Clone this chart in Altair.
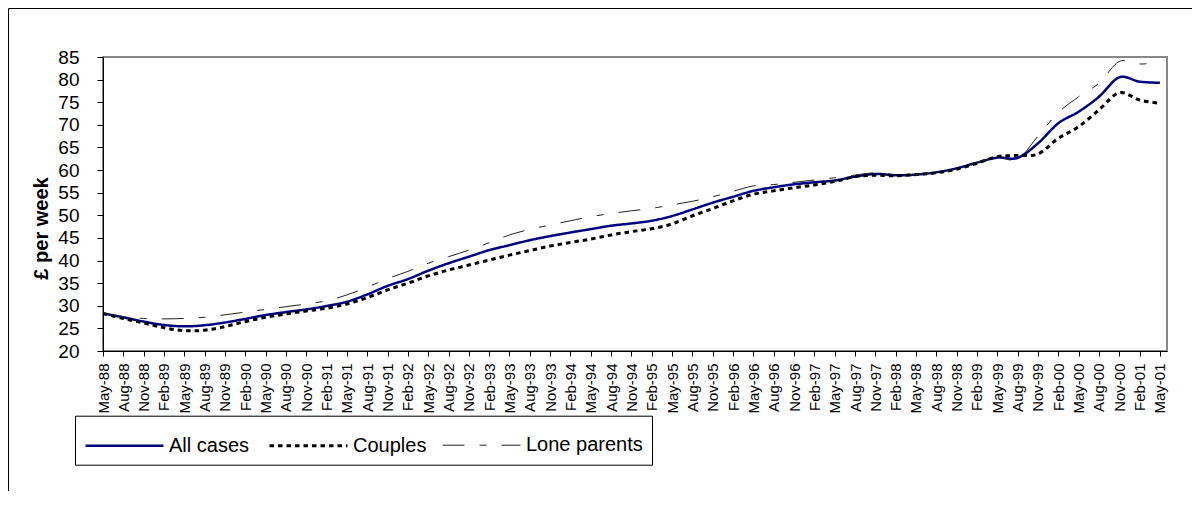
import json
import altair as alt
import pandas as pd

labels = ["May-88","Aug-88","Nov-88","Feb-89","May-89","Aug-89","Nov-89","Feb-90","May-90","Aug-90",
          "Nov-90","Feb-91","May-91","Aug-91","Nov-91","Feb-92","May-92","Aug-92","Nov-92","Feb-93",
          "May-93","Aug-93","Nov-93","Feb-94","May-94","Aug-94","Nov-94","Feb-95","May-95","Aug-95",
          "Nov-95","Feb-96","May-96","Aug-96","Nov-96","Feb-97","May-97","Aug-97","Nov-97","Feb-98",
          "May-98","Aug-98","Nov-98","Feb-99","May-99","Aug-99","Nov-99","Feb-00","May-00","Aug-00",
          "Nov-00","Feb-01","May-01"]

all_cases = [28.3, 27.45, 26.5, 25.75, 25.45, 25.7, 26.3, 27.1, 27.95, 28.6,
             29.2, 29.95, 30.9, 32.5, 34.4, 35.9, 37.75, 39.4, 40.85, 42.3,
             43.4, 44.5, 45.4, 46.2, 46.95, 47.7, 48.2, 48.8, 49.85, 51.3,
             52.8, 54.1, 55.4, 56.2, 56.85, 57.3, 57.7, 58.55, 59.15, 58.85,
             59.0, 59.5, 60.4, 61.65, 62.75, 62.7, 65.9, 70.35, 72.9, 76.2,
             80.5, 79.55, 79.3]

couples = [28.3, 27.2, 26.2, 25.15, 24.5, 24.6, 25.4, 26.5, 27.45, 28.2,
           28.85, 29.45, 30.4, 31.8, 33.5, 35.0, 36.6, 37.9, 39.0, 40.1,
           41.2, 42.2, 43.2, 44.0, 44.75, 45.65, 46.4, 47.05, 48.1, 49.9,
           51.5, 53.2, 54.65, 55.4, 56.1, 56.7, 57.5, 58.55, 58.85, 58.75,
           59.0, 59.4, 60.2, 61.5, 62.95, 63.25, 63.55, 67.0, 69.6, 73.3,
           77.1, 75.5, 74.75]

lone_parents = [28.3, 27.6, 27.2, 27.1, 27.2, 27.45, 28.0, 28.6, 29.2, 29.8,
                30.4, 31.1, 32.4, 34.1, 36.0, 37.6, 39.4, 40.85, 42.3, 43.95,
                45.65, 46.9, 47.85, 48.8, 49.7, 50.4, 51.0, 51.55, 52.3, 53.1,
                54.1, 55.3, 56.5, 56.8, 57.3, 57.8, 58.3, 58.9, 59.4, 59.0,
                59.0, 59.5, 60.4, 61.7, 62.8, 62.4, 67.5, 72.7, 76.2, 79.2,
                84.0, 83.45, 83.8]

series_names = ["All cases", "Couples", "Lone parents"]
y_ticks = list(range(20, 90, 5))

rows = []
for name, vals in zip(series_names, [all_cases, couples, lone_parents]):
    for i, v in enumerate(vals):
        rows.append({"idx": i, "value": v, "series": name, "order": series_names.index(name)})
df = pd.DataFrame(rows)

FONT = "Liberation Sans"
W, H = 1064, 294

label_expr = json.dumps(labels) + "[datum.value]"


def make_legend():
    return alt.Legend(orient="none", legendX=-28, legendY=358.7,
                      direction="horizontal", columns=3, columnPadding=13,
                      symbolType="M-1,0H3", symbolSize=1521, labelOffset=43,
                      labelFont=FONT, labelFontSize=20, labelColor="black",
                      padding=9, strokeColor="black", title=None)


lines = alt.Chart(df).mark_line(interpolate="cardinal").encode(
    x=alt.X("idx:Q",
            scale=alt.Scale(domain=[0, 52.35], nice=False, zero=False),
            axis=alt.Axis(values=list(range(len(labels))), labelExpr=label_expr,
                          labelAngle=270, title=None, grid=False, tickSize=5,
                          labelPadding=7, labelFontSize=15, labelFont=FONT,
                          labelColor="black", domainColor="black", tickColor="black",
                          labelOverlap=False, labelFlush=False)),
    y=alt.Y("value:Q",
            scale=alt.Scale(domain=[20, 85], nice=False, zero=False),
            axis=alt.Axis(values=y_ticks, title="£ per week", titleFont=FONT,
                          titleFontSize=20, titleFontWeight="bold", titleColor="black",
                          titleX=-62, titleY=171, titleAngle=270, titleAlign="center",
                          titleBaseline="middle", grid=False, tickSize=6, labelPadding=18,
                          labelFontSize=19, labelFont=FONT, labelColor="black",
                          domainColor="black", tickColor="black")),
    color=alt.Color("series:N",
                    scale=alt.Scale(domain=series_names, range=["#000080", "#000000", "#222222"]),
                    legend=make_legend()),
    strokeDash=alt.StrokeDash("series:N",
                              scale=alt.Scale(domain=series_names,
                                              range=[[1, 0], [4.5, 4], [22, 15, 7, 15]]),
                              legend=make_legend()),
    strokeWidth=alt.StrokeWidth("series:N",
                                scale=alt.Scale(type="ordinal", domain=series_names,
                                                range=[2.5, 3, 1]),
                                legend=make_legend()),
    order=alt.Order("order:Q"),
)

frame_data = alt.Data(values=[{}])
frame_top = alt.Chart(frame_data).mark_rule(color="black", strokeWidth=1).encode(
    x=alt.value(-94.5), x2=alt.value(W + 40), y=alt.value(-48.5))
frame_left = alt.Chart(frame_data).mark_rule(color="black", strokeWidth=1).encode(
    x=alt.value(-94.5), y=alt.value(-48.5), y2=alt.value(H + 150))

chart = alt.layer(lines, frame_top, frame_left).properties(
    width=W, height=H,
    autosize=alt.AutoSizeParams(type="none"),
    padding={"left": 95, "top": 49, "right": 25, "bottom": 140},
    background="white",
).configure_view(stroke="#888888", strokeWidth=2)

chart.save("out.html", embed_options={"renderer": "svg", "actions": False})
